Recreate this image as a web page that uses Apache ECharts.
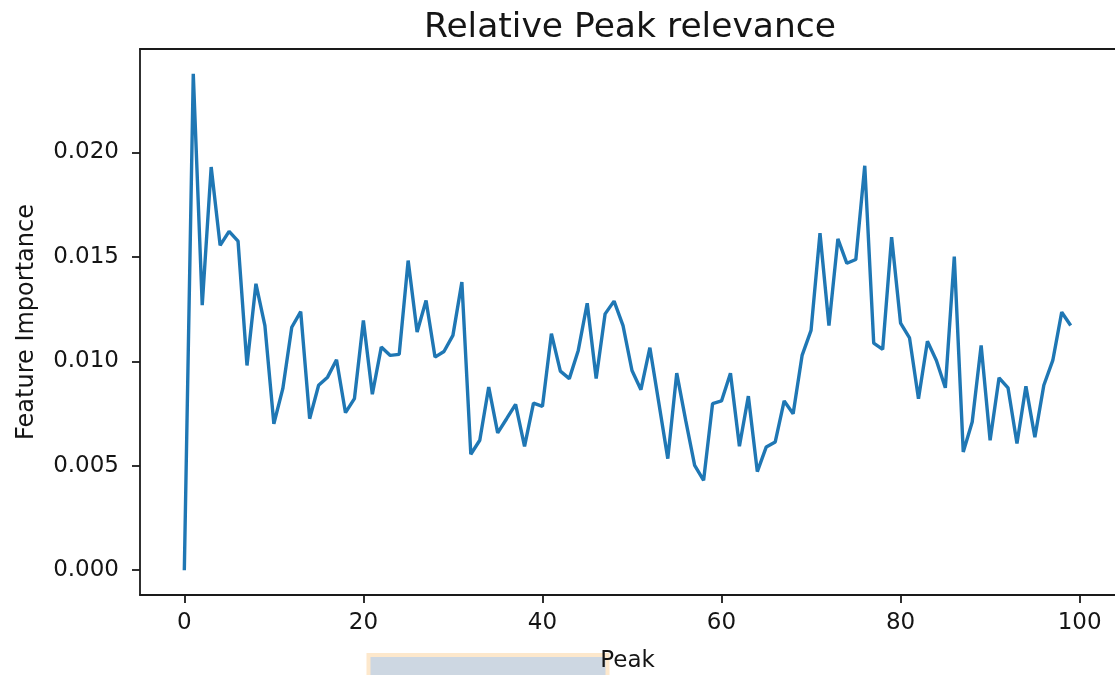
<!DOCTYPE html>
<html>
<head>
<meta charset="utf-8">
<title>Relative Peak relevance</title>
<script src="https://cdn.jsdelivr.net/npm/echarts@6/dist/echarts.min.js"></script>
<style>
  html, body { margin: 0; padding: 0; background: #ffffff; }
  #chart { width: 1115px; height: 675px; }
</style>
</head>
<body>
<div id="chart"></div>
<script>
// Peak index and its feature importance
const peaks = Array.from({ length: 100 }, (_, i) => i);
const importance = [
  0.00000, 0.02376, 0.01269, 0.01930, 0.01555, 0.01622, 0.01575, 0.00980, 0.01371, 0.01171,
  0.00701, 0.00869, 0.01163, 0.01238, 0.00725, 0.00885, 0.00924, 0.01007, 0.00754, 0.00821,
  0.01195, 0.00842, 0.01068, 0.01028, 0.01033, 0.01482, 0.01140, 0.01291, 0.01020, 0.01047,
  0.01124, 0.01379, 0.00555, 0.00622, 0.00877, 0.00657, 0.00725, 0.00794, 0.00593, 0.00800,
  0.00784, 0.01132, 0.00953, 0.00917, 0.01052, 0.01278, 0.00917, 0.01227, 0.01288, 0.01171,
  0.00956, 0.00864, 0.01065, 0.00800, 0.00534, 0.00943, 0.00717, 0.00502, 0.00430, 0.00797,
  0.00810, 0.00943, 0.00593, 0.00833, 0.00472, 0.00590, 0.00614, 0.00810, 0.00749, 0.01028,
  0.01148, 0.01613, 0.01171, 0.01586, 0.01469, 0.01487, 0.01936, 0.01087, 0.01057, 0.01594,
  0.01183, 0.01112, 0.00821, 0.01096, 0.01004, 0.00873, 0.01501, 0.00566, 0.00709, 0.01076,
  0.00622, 0.00921, 0.00873, 0.00606, 0.00880, 0.00637, 0.00885, 0.01004, 0.01235, 0.01171
];
const xTicks = [0, 20, 40, 60, 80, 100];
const yTicks = [0, 0.005, 0.010, 0.015, 0.020];

// axis limits padded by 5% of the data range on each side
const xSpan = peaks[peaks.length - 1] - peaks[0];
const xMin = peaks[0] - 0.05 * xSpan;
const xMax = peaks[peaks.length - 1] + 0.05 * xSpan;
const yHi = Math.max(...importance), yLo = Math.min(...importance);
const yMin = yLo - 0.05 * (yHi - yLo);
const yMax = yHi + 0.05 * (yHi - yLo);

const FONT = 'DejaVu Sans';
const TEXT = '#151515';
const SPINE = '#1a1a1a';
const spine = { show: true, onZero: false, lineStyle: { color: SPINE, width: 1.8 } };

const chart = echarts.init(document.getElementById('chart'), null, { renderer: 'canvas' });
chart.setOption({
  backgroundColor: '#ffffff',
  animation: false,
  title: {
    text: 'Relative Peak relevance',
    left: 625, top: 6, textAlign: 'center',
    textStyle: { fontFamily: FONT, fontSize: 34.5, fontWeight: 'normal', color: TEXT }
  },
  grid: {
    left: 140, right: 0, top: 49, bottom: 80,
    outerBoundsMode: 'none',
    show: false
  },
  xAxis: [{
    type: 'value', position: 'bottom', min: xMin, max: xMax,
    name: 'Peak', nameLocation: 'middle', nameGap: 55,
    nameTextStyle: { fontFamily: FONT, fontSize: 23, color: TEXT },
    splitLine: { show: false },
    axisLine: spine,
    axisTick: { show: true, length: 8, customValues: xTicks, lineStyle: { color: SPINE, width: 1.8 } },
    axisLabel: {
      customValues: xTicks, margin: 17,
      fontFamily: FONT, fontSize: 23, color: TEXT,
      formatter: v => String(Math.round(v))
    }
  }, {
    // top spine of the frame
    type: 'value', position: 'top', min: xMin, max: xMax,
    splitLine: { show: false }, axisLine: spine,
    axisTick: { show: false }, axisLabel: { show: false }
  }],
  yAxis: {
    type: 'value', min: yMin, max: yMax,
    name: 'Feature Importance', nameLocation: 'middle', nameGap: 101,
    nameTextStyle: { fontFamily: FONT, fontSize: 24, color: TEXT },
    splitLine: { show: false },
    axisLine: spine,
    axisTick: { show: true, length: 8, customValues: yTicks, lineStyle: { color: SPINE, width: 1.8 } },
    axisLabel: {
      customValues: yTicks, margin: 21,
      fontFamily: FONT, fontSize: 23, color: TEXT,
      formatter: v => v.toFixed(3)
    }
  },
  graphic: [
    {
      type: 'rect', z: -1,
      shape: { x: 368.5, y: 655, width: 239, height: 26 },
      style: { fill: '#cdd7e2', stroke: '#fde8cc', lineWidth: 4 }
    }
  ],
  series: [{
    type: 'line',
    xAxisIndex: 0,
    data: peaks.map((p, i) => [p, importance[i]]),
    showSymbol: false,
    lineStyle: { color: '#1f77b4', width: 3.4 },
    itemStyle: { color: '#1f77b4' }
  }]
});
</script>
</body>
</html>
